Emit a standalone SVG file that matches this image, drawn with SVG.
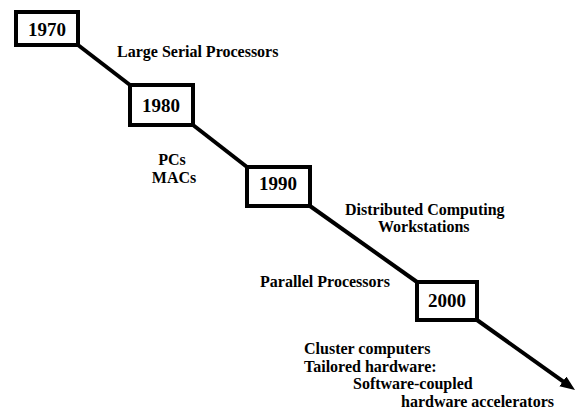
<svg xmlns="http://www.w3.org/2000/svg" width="578" height="414" viewBox="0 0 578 414">
<style>
.box{fill:#fff;stroke:#000;stroke-width:4}
.yr{font-family:"Liberation Serif",serif;font-weight:bold;font-size:19px;text-anchor:middle;fill:#000}
.lbl{font-family:"Liberation Serif",serif;font-weight:bold;font-size:16px;fill:#000}
.c{text-anchor:middle}
.ln{stroke:#000;stroke-width:4;fill:none}
</style>
<defs>
<marker id="ah" markerWidth="16" markerHeight="13" refX="5" refY="6" orient="auto" markerUnits="userSpaceOnUse">
<path d="M0,0 L15,6 L0,12 z" fill="#000"/>
</marker>
</defs>
<rect width="578" height="414" fill="#fff"/>
<g id="connectors">
<line class="ln" x1="78" y1="45" x2="130" y2="85"/>
<line class="ln" x1="193" y1="125" x2="247" y2="167"/>
<line class="ln" x1="310" y1="206" x2="417" y2="282"/>
<line class="ln" x1="477" y1="320" x2="566.9" y2="384.2" marker-end="url(#ah)"/>
</g>
<g id="n1970"><rect class="box" x="16" y="12" width="62" height="33"/><text class="yr" x="47" y="36">1970</text></g>
<g id="n1980"><rect class="box" x="130" y="85" width="63" height="40"/><text class="yr" x="161" y="112">1980</text></g>
<g id="n1990"><rect class="box" x="247" y="167" width="63" height="39"/><text class="yr" x="278" y="190">1990</text></g>
<g id="n2000"><rect class="box" x="417" y="282" width="60" height="38"/><text class="yr" x="447" y="307">2000</text></g>
<g id="labels">
<text class="lbl" x="117" y="57">Large Serial Processors</text>
<text class="lbl c" x="172" y="165">PCs</text>
<text class="lbl c" x="174" y="183">MACs</text>
<text class="lbl" x="345" y="215">Distributed Computing</text>
<text class="lbl" x="378" y="232">Workstations</text>
<text class="lbl" x="260" y="287">Parallel Processors</text>
<text class="lbl" x="304" y="354">Cluster computers</text>
<text class="lbl" x="304" y="372">Tailored hardware:</text>
<text class="lbl" x="353" y="389">Software-coupled</text>
<text class="lbl" x="401" y="407">hardware accelerators</text>
</g>
</svg>
